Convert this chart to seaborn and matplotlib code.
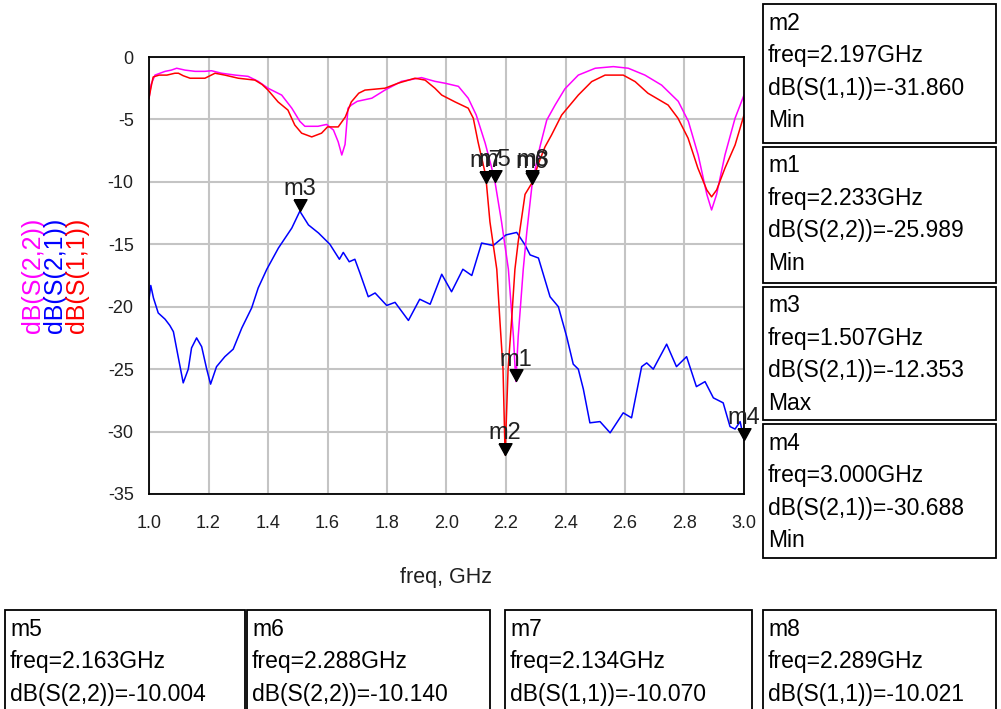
"""
S-parameter plot (ADS style) recreated with seaborn
"""

import numpy as np
import pandas as pd
import matplotlib
matplotlib.use('Agg')
import matplotlib.pyplot as plt
import seaborn as sns
from matplotlib.patches import Rectangle
from matplotlib import font_manager

# ---- data ----
freq_s11 = [1.000, 1.007, 1.014, 1.034, 1.060, 1.087, 1.099, 1.115, 1.138, 1.188,
            1.205, 1.222, 1.255, 1.300, 1.356, 1.380, 1.400, 1.434, 1.467, 1.490,
            1.513, 1.547, 1.580, 1.600, 1.636, 1.660, 1.680, 1.705, 1.726, 1.793,
            1.837, 1.894, 1.928, 1.961, 1.984, 2.029, 2.073, 2.090, 2.106, 2.129,
            2.134, 2.146, 2.169, 2.180, 2.190, 2.197, 2.207, 2.219, 2.230, 2.241,
            2.264, 2.289, 2.308, 2.331, 2.353, 2.387, 2.443, 2.488, 2.533, 2.594,
            2.634, 2.677, 2.745, 2.778, 2.812, 2.845, 2.875, 2.891, 2.908, 2.936,
            2.970, 3.000]
db_s11 = [-3.3, -2.4, -1.6, -1.45, -1.45, -1.3, -1.3, -1.5, -1.7, -1.7,
          -1.5, -1.3, -1.45, -1.7, -1.85, -2.2, -2.65, -3.6, -4.25, -5.45,
          -6.1, -6.4, -6.1, -5.6, -5.6, -4.8, -3.6, -2.9, -2.65, -2.5,
          -2.1, -1.7, -1.85, -2.5, -3.05, -3.6, -4.1, -4.9, -6.8, -9.2,
          -10.07, -13.2, -17.0, -21.3, -25.0, -31.86, -25.0, -21.0, -17.0, -14.8,
          -11.0, -10.02, -8.6, -7.2, -6.25, -4.65, -3.05, -1.97, -1.45, -1.45,
          -1.97, -2.9, -3.85, -4.9, -6.5, -8.9, -10.65, -11.2, -10.65, -8.9,
          -7.05, -4.65]

freq_s22 = [1.000, 1.007, 1.020, 1.054, 1.075, 1.093, 1.121, 1.155, 1.188, 1.210,
            1.244, 1.290, 1.333, 1.367, 1.400, 1.446, 1.480, 1.507, 1.524, 1.568,
            1.597, 1.620, 1.636, 1.648, 1.659, 1.669, 1.680, 1.700, 1.749, 1.793,
            1.849, 1.916, 1.961, 1.995, 2.040, 2.073, 2.100, 2.130, 2.150, 2.163,
            2.185, 2.208, 2.225, 2.233, 2.241, 2.258, 2.270, 2.288, 2.314, 2.337,
            2.365, 2.398, 2.443, 2.500, 2.561, 2.611, 2.667, 2.723, 2.779, 2.813,
            2.846, 2.875, 2.891, 2.908, 2.936, 2.970, 3.000]
db_s22 = [-3.3, -2.2, -1.45, -1.15, -1.05, -0.9, -1.05, -1.15, -1.15, -1.1,
          -1.3, -1.45, -1.55, -1.95, -2.5, -3.05, -4.1, -5.15, -5.55, -5.55,
          -5.4, -5.85, -6.8, -7.85, -7.0, -4.1, -3.85, -3.55, -3.3, -2.65,
          -1.95, -1.65, -1.95, -2.1, -2.35, -3.3, -4.65, -6.9, -8.7, -10.0,
          -13.2, -17.0, -22.4, -25.99, -22.4, -17.0, -14.0, -10.14, -7.2, -5.05,
          -3.85, -2.55, -1.45, -0.9, -0.77, -0.9, -1.45, -2.25, -3.55, -5.15,
          -7.85, -11.0, -12.25, -11.0, -7.85, -4.9, -3.05]

freq_s21 = [1.000, 1.006, 1.015, 1.031, 1.054, 1.070, 1.082, 1.098, 1.115, 1.132,
            1.143, 1.160, 1.177, 1.194, 1.207, 1.227, 1.255, 1.283, 1.312, 1.345,
            1.367, 1.396, 1.435, 1.480, 1.507, 1.536, 1.570, 1.608, 1.640, 1.653,
            1.673, 1.692, 1.709, 1.737, 1.760, 1.799, 1.827, 1.872, 1.910, 1.945,
            1.984, 2.017, 2.055, 2.085, 2.118, 2.157, 2.200, 2.236, 2.264, 2.281,
            2.309, 2.348, 2.376, 2.404, 2.426, 2.443, 2.460, 2.482, 2.516, 2.550,
            2.594, 2.622, 2.656, 2.673, 2.695, 2.740, 2.773, 2.807, 2.840, 2.869,
            2.897, 2.930, 2.953, 2.970, 2.987, 3.000]
db_s21 = [-19.4, -18.3, -19.3, -20.5, -21.0, -21.5, -22.0, -24.0, -26.1, -25.0,
          -23.3, -22.5, -23.2, -25.0, -26.2, -24.8, -24.0, -23.4, -21.7, -20.1,
          -18.5, -17.0, -15.3, -13.7, -12.35, -13.45, -14.1, -15.0, -16.2, -15.65,
          -16.4, -16.2, -17.3, -19.2, -18.9, -19.9, -19.65, -21.1, -19.4, -19.8,
          -17.4, -18.8, -17.0, -17.5, -14.9, -15.1, -14.25, -14.05, -15.05, -15.85,
          -16.1, -19.2, -20.0, -22.4, -24.6, -25.0, -26.6, -29.3, -29.2, -30.1,
          -28.5, -28.9, -24.8, -24.5, -25.0, -23.0, -24.8, -24.0, -26.4, -26.0,
          -27.3, -27.7, -29.6, -29.8, -29.2, -30.69]

# markers: name, freq, value, trace, kind
marker_names = ['m1', 'm2', 'm3', 'm4', 'm5', 'm6', 'm7', 'm8']
marker_freq = [2.233, 2.197, 1.507, 3.000, 2.163, 2.288, 2.134, 2.289]
marker_db = [-25.989, -31.860, -12.353, -30.688, -10.004, -10.140, -10.070, -10.021]
marker_trace = ['dB(S(2,2))', 'dB(S(1,1))', 'dB(S(2,1))', 'dB(S(2,1))',
                'dB(S(2,2))', 'dB(S(2,2))', 'dB(S(1,1))', 'dB(S(1,1))']
marker_kind = ['Min', 'Min', 'Max', 'Min', None, None, None, None]

x_ticks = [1.0, 1.2, 1.4, 1.6, 1.8, 2.0, 2.2, 2.4, 2.6, 2.8, 3.0]
y_ticks = [0, -5, -10, -15, -20, -25, -30, -35]

colors = {'dB(S(1,1))': '#ff0000', 'dB(S(2,1))': '#0000ff', 'dB(S(2,2))': '#ff00ff'}

df = pd.concat([
    pd.DataFrame({'freq': freq_s21, 'dB': db_s21, 'trace': 'dB(S(2,1))'}),
    pd.DataFrame({'freq': freq_s22, 'dB': db_s22, 'trace': 'dB(S(2,2))'}),
    pd.DataFrame({'freq': freq_s11, 'dB': db_s11, 'trace': 'dB(S(1,1))'}),
], ignore_index=True)

sns.set_style('white')
plt.rcParams['font.family'] = ['Liberation Sans', 'DejaVu Sans']
plt.rcParams['axes.unicode_minus'] = False

# narrow font for the marker readouts (the ADS text is condensed)
installed = {f.name for f in font_manager.fontManager.ttflist}
if 'Liberation Sans Narrow' in installed:
    box_font = ['Liberation Sans Narrow', 'DejaVu Sans']
    box_size = 18.5
else:
    box_font = ['Liberation Sans', 'DejaVu Sans']
    box_size = 16.5

W, H = 1001, 709
fig = plt.figure(figsize=(W / 100, H / 100), dpi=100)
ax = fig.add_axes([149 / W, 1 - 494 / H, 595 / W, 437 / H])

sns.lineplot(data=df, x='freq', y='dB', hue='trace', palette=colors,
             estimator=None, sort=False, linewidth=1.1, legend=False, ax=ax)

ax.set_xlim(1.0, 3.0)
ax.set_ylim(-35, 0)
ax.set_xticks(x_ticks)
ax.set_xticklabels([f'{t:.1f}' for t in x_ticks])
ax.set_xticks(np.arange(1.1, 3.0, 0.2), minor=True)
ax.set_yticks(y_ticks)
ax.set_yticklabels([str(t) for t in y_ticks])
ax.grid(True, which='major', color='#c4c4c4', linewidth=1.5)
ax.set_axisbelow(True)
for sp in ax.spines.values():
    sp.set_color('black')
    sp.set_linewidth(1.3)
ax.tick_params(axis='both', which='major', direction='out', length=8, width=1.3,
               color='black', labelsize=13, labelcolor='#202020', pad=3)
ax.tick_params(axis='x', which='minor', direction='out', length=7, width=1.3, color='black')
ax.tick_params(axis='x', which='major', pad=7)
ax.set_xlabel('freq, GHz', fontsize=15.5, color='#202020', labelpad=25)
ax.set_ylabel('')

# coloured y labels
for xp, name in [(33, 'dB(S(2,2))'), (55, 'dB(S(2,1))'), (77, 'dB(S(1,1))')]:
    fig.text(xp / W, 1 - 275 / H, name, rotation=90, color=colors[name],
             fontsize=18, ha='center', va='center')

# marker triangles + labels
tri = [(-0.55, 1.0), (0.55, 1.0), (0.0, 0.0), (-0.55, 1.0)]
for name, fx, fy in zip(marker_names, marker_freq, marker_db):
    ax.plot([fx], [fy], marker=tri, markersize=17, color='black',
            linestyle='none', clip_on=False, zorder=5)
    ax.annotate(name, xy=(fx, fy), xytext=(0, 11.5), textcoords='offset points',
                ha='center', va='baseline', fontsize=17, family=box_font,
                color='#202020', annotation_clip=False, zorder=6)


def marker_box(x0, y0, x1, y1, idx):
    fig.add_artist(Rectangle((x0 / W, 1 - y1 / H), (x1 - x0) / W, (y1 - y0) / H,
                             transform=fig.transFigure, facecolor='white',
                             edgecolor='black', linewidth=1.3))
    lines = [marker_names[idx],
             f'freq={marker_freq[idx]:.3f}GHz',
             f'{marker_trace[idx]}={marker_db[idx]:.3f}']
    if marker_kind[idx]:
        lines.append(marker_kind[idx])
    for k, line in enumerate(lines):
        fig.text((x0 + 5) / W, 1 - (y0 + 19 + 32.5 * k) / H, line,
                 fontsize=box_size, family=box_font, color='black',
                 ha='left', va='center')


# right column: m2, m1, m3, m4
marker_box(763, 4, 996, 143, 1)
marker_box(763, 147, 996, 283, 0)
marker_box(763, 287, 996, 420, 2)
marker_box(763, 424, 996, 558, 3)
# bottom row: m5, m6, m7, m8
marker_box(5, 610, 245, 715, 4)
marker_box(247, 610, 490, 715, 5)
marker_box(505, 610, 752, 715, 6)
marker_box(763, 610, 996, 715, 7)

fig.savefig('out.png', dpi=100)
